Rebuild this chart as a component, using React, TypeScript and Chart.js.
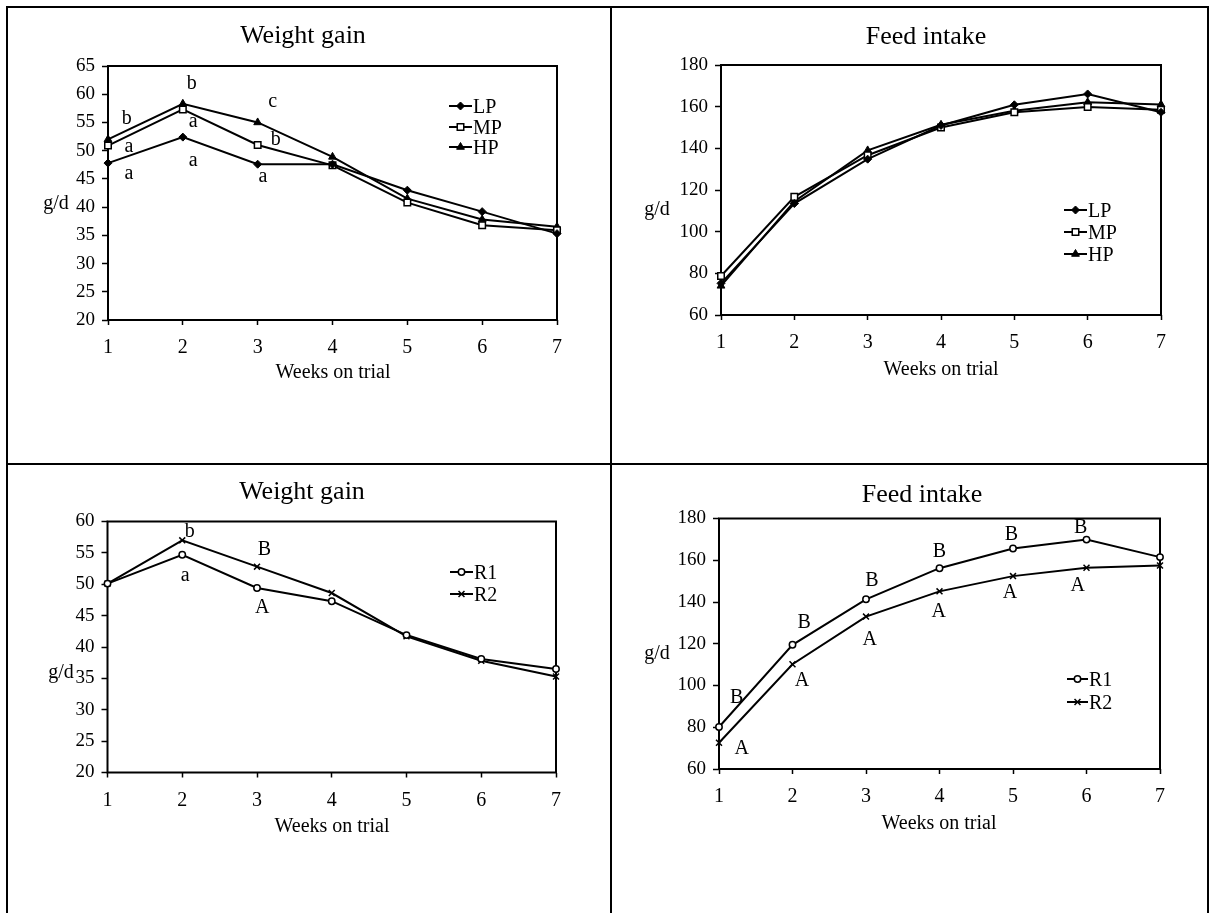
import React, { useEffect, useRef } from 'react';
import { Chart, registerables } from 'chart.js';
import { drawPoint } from 'chart.js/helpers';

Chart.register(...registerables);

const SERIF = '"Liberation Serif", "Times New Roman", Times, serif';

// Weeks on trial
const weeks = [1, 2, 3, 4, 5, 6, 7];

// Weight gain (g/d) by dietary protein level
const gainLP = [47.8, 52.4, 47.6, 47.6, 43.0, 39.2, 35.3];
const gainMP = [50.9, 57.3, 51.0, 47.4, 40.8, 36.8, 35.9];
const gainHP = [52.0, 58.3, 55.0, 48.9, 41.5, 37.8, 36.5];

// Feed intake (g/d) by dietary protein level
const intakeLP = [75.2, 113.5, 134.8, 151.0, 160.9, 166.1, 157.3];
const intakeMP = [78.7, 116.7, 136.7, 150.0, 157.3, 159.8, 158.5];
const intakeHP = [74.0, 114.5, 139.0, 151.3, 158.0, 162.1, 161.0];

// Weight gain (g/d) by ration
const gainR1 = [50.1, 54.7, 49.4, 47.3, 41.9, 38.1, 36.5];
const gainR2 = [50.1, 57.0, 52.8, 48.6, 41.7, 37.8, 35.3];

// Feed intake (g/d) by ration
const intakeR1 = [80.1, 119.5, 141.3, 156.2, 165.6, 169.9, 161.5];
const intakeR2 = [72.6, 110.2, 133.0, 145.1, 152.4, 156.4, 157.5];

// y-axis tick values
const gainProteinTicks = [20, 25, 30, 35, 40, 45, 50, 55, 60, 65];
const gainRationTicks = [20, 25, 30, 35, 40, 45, 50, 55, 60];
const intakeTicks = [60, 80, 100, 120, 140, 160, 180];

// Significance letters: [letter, week, g/d]
type Letter = [string, number, number];
const gainProteinLetters: Letter[] = [
  ['b', 1.25, 55.7], ['a', 1.28, 50.7], ['a', 1.28, 45.9],
  ['b', 2.12, 61.9], ['a', 2.14, 55.1], ['a', 2.14, 48.3],
  ['c', 3.2, 58.7], ['b', 3.24, 52.0], ['a', 3.07, 45.4],
];
const intakeProteinLetters: Letter[] = [];
const gainRationLetters: Letter[] = [
  ['b', 2.1, 58.4], ['a', 2.04, 51.3], ['B', 3.1, 55.5], ['A', 3.07, 46.2],
];
const intakeRationLetters: Letter[] = [
  ['B', 1.24, 94.1], ['A', 1.31, 69.8],
  ['B', 2.16, 130.0], ['A', 2.13, 102.1],
  ['B', 3.08, 150.3], ['A', 3.05, 121.7],
  ['B', 4.0, 164.3], ['A', 3.99, 135.3],
  ['B', 4.98, 172.3], ['A', 4.96, 144.4],
  ['B', 5.92, 175.5], ['A', 5.88, 147.6],
];

type SeriesDef = {
  label: string;
  values: number[];
  style: string;
  radius: number;
  fill: string;
  border: number;
};

const lp = (values: number[]): SeriesDef => ({ label: 'LP', values, style: 'rectRot', radius: 4, fill: '#000', border: 1 });
const mp = (values: number[]): SeriesDef => ({ label: 'MP', values, style: 'rect', radius: 4.6, fill: '#fff', border: 1.5 });
const hp = (values: number[]): SeriesDef => ({ label: 'HP', values, style: 'triangle', radius: 4.5, fill: '#000', border: 1 });
const r1 = (values: number[]): SeriesDef => ({ label: 'R1', values, style: 'circle', radius: 3.2, fill: '#fff', border: 1.5 });
const r2 = (values: number[]): SeriesDef => ({ label: 'R2', values, style: 'crossRot', radius: 4.2, fill: '#000', border: 1.5 });

type PanelDef = {
  id: string;
  title: string;
  cell: [number, number, number, number];
  plot: [number, number, number, number];
  yTicks: number[];
  series: SeriesDef[];
  letters: Letter[];
  titleAt: [number, number];
  xTitleAt: [number, number];
  yTitleAt: [number, number];
  legend: { x0: number; x1: number; textX: number; rows: number[] };
};

const panels: PanelDef[] = [
  {
    id: 'gain-protein',
    title: 'Weight gain',
    cell: [8, 8, 610, 463],
    plot: [108, 66, 557, 320],
    yTicks: gainProteinTicks,
    series: [lp(gainLP), mp(gainMP), hp(gainHP)],
    letters: gainProteinLetters,
    titleAt: [303, 43],
    xTitleAt: [333, 378],
    yTitleAt: [56, 209],
    legend: { x0: 449, x1: 472, textX: 473, rows: [106, 127, 147] },
  },
  {
    id: 'intake-protein',
    title: 'Feed intake',
    cell: [612, 8, 1207, 463],
    plot: [721, 65, 1161, 315],
    yTicks: intakeTicks,
    series: [lp(intakeLP), mp(intakeMP), hp(intakeHP)],
    letters: intakeProteinLetters,
    titleAt: [926, 44],
    xTitleAt: [941, 375],
    yTitleAt: [657, 215],
    legend: { x0: 1064, x1: 1087, textX: 1088, rows: [210, 232, 254] },
  },
  {
    id: 'gain-ration',
    title: 'Weight gain',
    cell: [8, 465, 610, 913],
    plot: [107.5, 521.5, 556, 772.5],
    yTicks: gainRationTicks,
    series: [r1(gainR1), r2(gainR2)],
    letters: gainRationLetters,
    titleAt: [302, 499],
    xTitleAt: [332, 832],
    yTitleAt: [61, 678],
    legend: { x0: 450, x1: 473, textX: 474, rows: [572, 594] },
  },
  {
    id: 'intake-ration',
    title: 'Feed intake',
    cell: [612, 465, 1207, 913],
    plot: [719, 518.5, 1160, 769],
    yTicks: intakeTicks,
    series: [r1(intakeR1), r2(intakeR2)],
    letters: intakeRationLetters,
    titleAt: [922, 502],
    xTitleAt: [939, 829],
    yTitleAt: [657, 659],
    legend: { x0: 1067, x1: 1088, textX: 1089, rows: [679, 702] },
  },
];

const Y_AXIS_W = 60;
const X_AXIS_H = 50;

// Frame, titles, significance letters and legend for one panel
function panelDecor(p: PanelDef) {
  const [cl, ct] = p.cell;
  return {
    id: 'panelDecor',
    beforeDatasetsDraw(chart: any) {
      const { ctx, chartArea: a } = chart;
      ctx.save();
      ctx.strokeStyle = '#000';
      ctx.lineWidth = 2;
      ctx.strokeRect(a.left, a.top, a.right - a.left, a.bottom - a.top);
      ctx.restore();
    },
    afterDraw(chart: any) {
      const { ctx } = chart;
      const xs = chart.scales.x;
      const ys = chart.scales.y;
      ctx.save();
      ctx.fillStyle = '#000';
      ctx.textAlign = 'center';
      ctx.textBaseline = 'alphabetic';
      ctx.font = `26px ${SERIF}`;
      ctx.fillText(p.title, p.titleAt[0] - cl, p.titleAt[1] - ct);
      ctx.font = `20px ${SERIF}`;
      ctx.fillText('Weeks on trial', p.xTitleAt[0] - cl, p.xTitleAt[1] - ct);
      ctx.fillText('g/d', p.yTitleAt[0] - cl, p.yTitleAt[1] - ct);

      ctx.textBaseline = 'middle';
      for (const [text, week, value] of p.letters) {
        ctx.fillText(text, xs.getPixelForValue(week), ys.getPixelForValue(value));
      }

      const { x0, x1, textX, rows } = p.legend;
      p.series.forEach((s, i) => {
        const y = rows[i] - ct;
        ctx.beginPath();
        ctx.strokeStyle = '#000';
        ctx.lineWidth = 2;
        ctx.moveTo(x0 - cl, y);
        ctx.lineTo(x1 - cl, y);
        ctx.stroke();
        ctx.fillStyle = s.fill;
        ctx.lineWidth = s.border;
        drawPoint(ctx, { pointStyle: s.style as any, radius: s.radius, rotation: 0, borderWidth: s.border }, (x0 + x1) / 2 - cl, y);
        ctx.fillStyle = '#000';
        ctx.textAlign = 'left';
        ctx.textBaseline = 'alphabetic';
        ctx.fillText(s.label, textX - cl, y + 6.6);
      });
      ctx.restore();
    },
  };
}

function buildConfig(p: PanelDef): any {
  const [cl, ct, cr, cb] = p.cell;
  const [pl, pt, pr, pb] = p.plot;
  return {
    type: 'line',
    data: {
      datasets: p.series.map((s) => ({
        label: s.label,
        data: weeks.map((w, i) => ({ x: w, y: s.values[i] })),
        borderColor: '#000',
        borderWidth: 2,
        tension: 0,
        fill: false,
        clip: false,
        pointStyle: s.style,
        pointRadius: s.radius,
        pointBackgroundColor: s.fill,
        pointBorderColor: '#000',
        pointBorderWidth: s.border,
      })),
    },
    options: {
      animation: false,
      responsive: false,
      devicePixelRatio: 1,
      events: [],
      layout: {
        padding: {
          left: pl - cl - Y_AXIS_W,
          top: pt - ct,
          right: cr - pr,
          bottom: cb - pb - X_AXIS_H,
        },
      },
      plugins: {
        legend: { display: false },
        title: { display: false },
        tooltip: { enabled: false },
      },
      scales: {
        x: {
          type: 'linear',
          min: weeks[0],
          max: weeks[weeks.length - 1],
          afterBuildTicks: (s: any) => {
            s.ticks = weeks.map((v) => ({ value: v }));
          },
          afterFit: (s: any) => {
            s.height = X_AXIS_H;
            s.paddingLeft = 0;
            s.paddingRight = 0;
          },
          ticks: {
            color: '#000',
            font: { family: SERIF, size: 20 },
            padding: 11,
            maxRotation: 0,
            autoSkip: false,
          },
          grid: { drawOnChartArea: false, drawTicks: true, tickLength: 5, tickWidth: 1.5, tickColor: '#000' },
          border: { display: false },
        },
        y: {
          type: 'linear',
          min: p.yTicks[0],
          max: p.yTicks[p.yTicks.length - 1],
          afterBuildTicks: (s: any) => {
            s.ticks = p.yTicks.map((v) => ({ value: v }));
          },
          afterFit: (s: any) => {
            s.width = Y_AXIS_W;
            s.paddingTop = 0;
            s.paddingBottom = 0;
          },
          ticks: {
            color: '#000',
            font: { family: SERIF, size: 19 },
            padding: 7,
            autoSkip: false,
          },
          grid: { drawOnChartArea: false, drawTicks: true, tickLength: 6, tickWidth: 1.5, tickColor: '#000' },
          border: { display: false },
        },
      },
    },
    plugins: [panelDecor(p)],
  };
}

function PanelChart({ panel }: { panel: PanelDef }) {
  const ref = useRef<HTMLCanvasElement>(null);
  useEffect(() => {
    if (!ref.current) return;
    const chart = new Chart(ref.current, buildConfig(panel));
    return () => chart.destroy();
  }, [panel]);
  const [l, t, r, b] = panel.cell;
  return (
    <canvas
      ref={ref}
      width={r - l}
      height={b - t}
      style={{ position: 'absolute', left: l, top: t, width: r - l, height: b - t }}
    />
  );
}

const rule = (left: number, top: number, width: number, height: number) => ({
  position: 'absolute' as const,
  left,
  top,
  width,
  height,
  background: '#000',
});

export default function App() {
  return (
    <div
      style={{
        position: 'absolute',
        left: 0,
        top: 0,
        width: 1213,
        height: 913,
        background: '#fff',
        overflow: 'hidden',
      }}
    >
      {panels.map((p) => (
        <PanelChart key={p.id} panel={p} />
      ))}
      <div style={rule(6, 6, 1203, 2)} />
      <div style={rule(6, 6, 2, 907)} />
      <div style={rule(1207, 6, 2, 907)} />
      <div style={rule(610, 6, 2, 907)} />
      <div style={rule(6, 463, 1203, 2)} />
    </div>
  );
}
